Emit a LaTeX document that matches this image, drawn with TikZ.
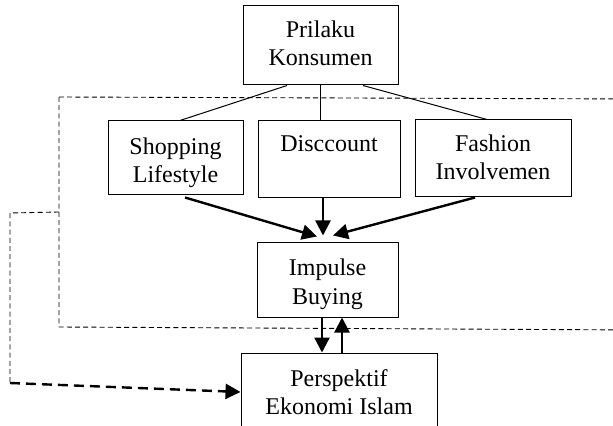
\documentclass[tikz,border=0pt]{standalone}
\usepackage{fontspec}
\setmainfont{Liberation Serif}
\usetikzlibrary{arrows.meta,calc}
\begin{document}
\begin{tikzpicture}[x=0.5pt,y=-0.5pt,
  box/.style={draw,line width=0.5pt,inner sep=0pt},
  txt/.style={align=center,inner sep=0pt,font=\fontsize{12}{14}\selectfont},
  thick arr/.style={line width=1.2pt,-{Triangle[length=7.5pt,width=7.5pt]}},
  thindash/.style={line width=0.45pt,dash pattern=on 2.5pt off 1.6pt},
  thickdash/.style={line width=1.2pt,dash pattern=on 5pt off 3pt,-{Triangle[length=7.5pt,width=7.5pt]}},
  conn/.style={line width=0.5pt}]
\clip (0,0) rectangle (613,426);
\fill[white] (0,0) rectangle (613,426);
\node[box,minimum width=77.5pt,minimum height=39.5pt] (pri) at (320.5,45.5) {};
\node[box,minimum width=67.5pt,minimum height=37pt] (shop) at (175.5,158) {};
\node[box,minimum width=71pt,minimum height=38.5pt] (disc) at (329,159.5) {};
\node[box,minimum width=78pt,minimum height=38.5pt] (fash) at (493,158.5) {};
\node[box,minimum width=70.5pt,minimum height=37pt] (imp) at (327.5,280) {};
\node[box,minimum width=98pt,minimum height=41pt] (per) at (339,394) {};
\node[txt] (priT) at (320.5,46.4) {\strut Prilaku\\\strut Konsumen};
\node[txt] (shopT) at (175.5,163.4) {\strut Shopping\\\strut Lifestyle};
\node[txt] (discT) at (329,146.4) {\strut Disccount};
\node[txt] (fashT) at (493,160.4) {\strut Fashion\\\strut Involvemen};
\node[txt] (impT) at (327.5,284.4) {\strut Impulse\\\strut Buying};
\node[txt] (perT) at (339,394.4) {\strut Perspektif\\\strut Ekonomi Islam};
% dashed frame
\draw[thindash] (59,97) -- (640,99);
\draw[thindash] (59,97) -- (59,327) -- (640,330);
% tree lines
\draw[conn] ($(pri.south)+(-33.5,0)$) -- ($(shop.north)+(4.5,0)$);
\draw[conn] (pri.south) -- (pri.south |- disc.north);
\draw[conn] ($(pri.south)+(42.5,0)$) -- ($(fash.north)+(-6,0)$);
% arrows to impulse
\draw[thick arr] ($(shop.south)+(9.5,2)$) -- ($(imp.north)+(-10.5,-6)$);
\draw[thick arr] ($(disc.south)+(-6,0)$) -- ($(imp.north)+(-4.5,-7)$);
\draw[thick arr] ($(fash.south)+(-18,0)$) -- ($(imp.north)+(5.5,-7)$);
% impulse <-> perspektif
\draw[thick arr] ($(imp.south)+(-5.5,0)$) -- ($(per.north)+(-17,0)$);
\draw[thick arr] ($(per.north)+(3,0)$) -- ($(imp.south)+(14.5,0)$);
% left dashed return
\coordinate (dl) at (59,212);
\coordinate (dc1) at (10,213);
\coordinate (dc2) at (10,383);
\draw[thindash] (dl) -- (dc1) -- (dc2);
\draw[thickdash] (dc2) -- ($(per.west)+(0,-2)$);
\end{tikzpicture}
\end{document}
